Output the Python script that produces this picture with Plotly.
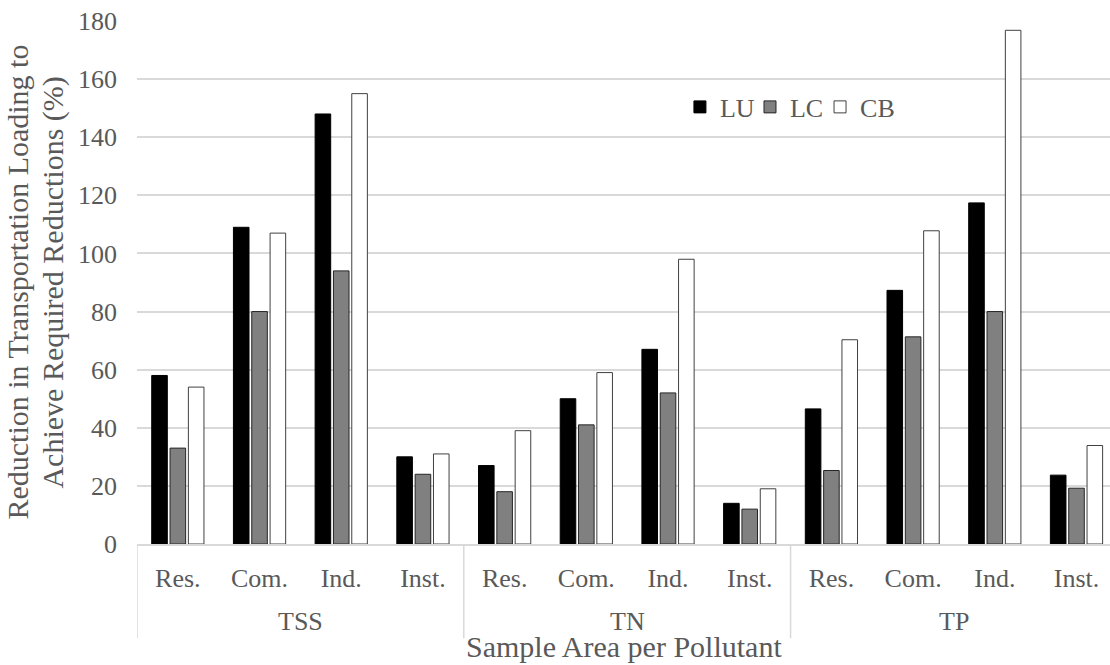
import plotly.graph_objects as go

pollutants = ["TSS", "TN", "TP"]
areas = ["Res.", "Com.", "Ind.", "Inst."]

lu = [58, 109, 148, 30, 27, 50, 67, 14, 46.5, 87.3, 117.4, 23.7]
lc = [33, 80, 94, 24, 18, 41, 52, 12, 25.3, 71.3, 80, 19.2]
cb = [54, 107, 155, 31, 39, 59, 98, 19, 70.3, 107.8, 176.8, 33.9]

series_names = ["LU", "LC", "CB"]
y_title_lines = ["Reduction in Transportation Loading to", "Achieve Required Reductions (%)"]
x_title = "Sample Area per Pollutant"

n_areas = len(areas)
idx = list(range(len(pollutants) * n_areas))
tick_text = [a for _ in pollutants for a in areas]

FONT = "Liberation Serif"
TXT = "#595959"
GRID = "#d9d9d9"

styles = [
    dict(color="#000000", line=dict(color="#000000", width=1)),
    dict(color="#808080", line=dict(color="#262626", width=1)),
    dict(color="#ffffff", line=dict(color="#404040", width=1)),
]
legend_ids = ["legend", "legend2", "legend3"]
legend_x = [0.558, 0.630, 0.702]

fig = go.Figure()
for name, vals, st, lg in zip(series_names, [lu, lc, cb], styles, legend_ids):
    fig.add_trace(go.Bar(name=name, x=idx, y=vals, marker=st, legend=lg))

annotations = []
shapes = []
for g, p in enumerate(pollutants):
    center = g * n_areas + (n_areas - 1) / 2
    annotations.append(dict(text=p, x=center, xref="x", y=-0.149, yref="paper",
                            xanchor="center", yanchor="middle", showarrow=False,
                            font=dict(family=FONT, size=26, color=TXT)))
for b in range(len(pollutants) + 1):
    xb = b * n_areas - 0.5
    shapes.append(dict(type="line", xref="x", yref="paper", x0=xb, x1=xb, y0=0, y1=-0.18,
                       line=dict(color=GRID, width=1.5)))

annotations.append(dict(text=x_title, x=0.5, xref="paper", y=-0.196, yref="paper",
                        xanchor="center", yanchor="middle", showarrow=False,
                        font=dict(family=FONT, size=30, color=TXT)))
for line, xp in zip(y_title_lines, [-0.1233, -0.0873]):
    annotations.append(dict(text=line, x=xp, xref="paper", y=0.5, yref="paper",
                            xanchor="center", yanchor="middle", textangle=-90, showarrow=False,
                            font=dict(family=FONT, size=30, color=TXT)))

legend_common = dict(orientation="h", y=0.8356, xanchor="left", yanchor="middle",
                     font=dict(family=FONT, size=26, color=TXT), bgcolor="rgba(0,0,0,0)",
                     itemwidth=30)

fig.update_layout(
    width=1110, height=665,
    margin=dict(l=137, r=0, t=21, b=121),
    plot_bgcolor="white", paper_bgcolor="white",
    barmode="group", bargap=0.327, bargroupgap=0.15,
    font=dict(family=FONT, size=26, color=TXT),
    legend=dict(x=legend_x[0], **legend_common),
    legend2=dict(x=legend_x[1], **legend_common),
    legend3=dict(x=legend_x[2], **legend_common),
    showlegend=True,
    annotations=annotations,
    shapes=shapes,
)
fig.update_yaxes(range=[0, 180], dtick=20, showgrid=True, gridcolor=GRID, gridwidth=1.5,
                 zeroline=False, showline=False, ticks="", ticklabelstandoff=19,
                 tickfont=dict(family=FONT, size=26, color=TXT))
fig.update_xaxes(range=[-0.5, 11.41], tickvals=idx, ticktext=tick_text, showline=True,
                 linecolor=GRID, linewidth=1.5, showgrid=False, zeroline=False, ticks="",
                 ticklabelstandoff=10, tickfont=dict(family=FONT, size=26, color=TXT))

fig.write_html("out.html")
